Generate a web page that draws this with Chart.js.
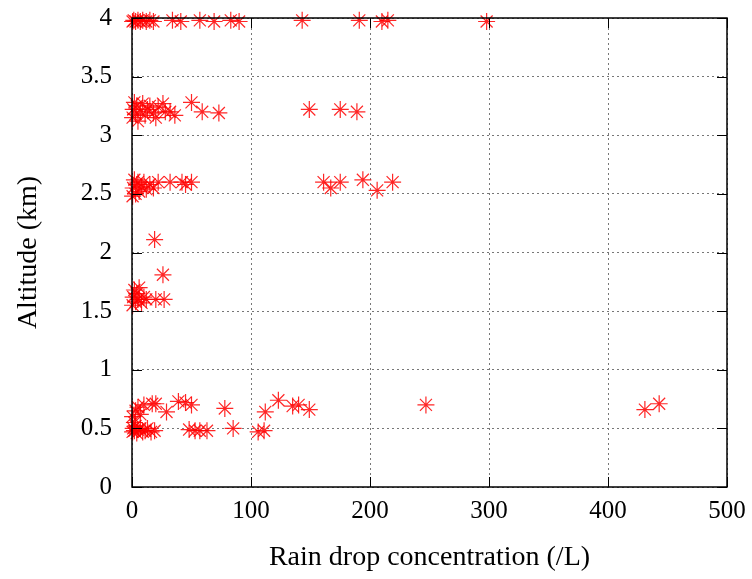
<!DOCTYPE html>
<html>
<head>
<meta charset="utf-8">
<script src="https://cdn.jsdelivr.net/npm/chart.js@4"></script>
<style>
  body { margin: 0; background: #fff; }
  #wrap { width: 752px; height: 579px; }
</style>
</head>
<body>
<div id="wrap"><canvas id="chart" width="752" height="579"></canvas></div>
<script>
// rain drop concentration (/L) and altitude (km)
var concentration = [
    // ~4 km
    0.5, 1.5, 3, 5, 7, 9, 12, 15, 18, 34, 41, 57, 69, 83, 90, 143, 191, 210, 215, 298,
    // ~3.2 km
    0.5, 1, 2, 3, 4, 5, 7, 9, 11, 13, 15, 18, 20, 22, 26, 28, 32, 36, 50, 59, 73, 149, 175, 189,
    // ~2.6 km
    0.5, 1, 2, 3, 4, 5, 6, 8, 10, 12, 15, 18, 22, 32, 42, 45, 50, 161, 167, 175, 194, 206, 219,
    // 2.1 and 1.8 km
    19, 26,
    // ~1.6 km
    0.5, 1, 2, 3, 4, 5, 6, 8, 10, 12, 20, 27,
    // ~0.7 km
    0.5, 2, 3, 5, 7, 10, 17, 20, 29, 39, 45, 50, 78, 112, 123, 135, 140, 149, 247, 431, 443,
    // ~0.5 km
    0.5, 1, 2, 3, 4, 5, 7, 9, 11, 13, 16, 19, 48, 53, 57, 63, 85, 106, 111
];
var altitude = [
    3.97, 3.98, 3.97, 3.98, 3.97, 3.98, 3.97, 3.98, 3.97, 3.98, 3.97, 3.98, 3.97, 3.98, 3.97, 3.98, 3.98, 3.97, 3.98, 3.97,
    3.15, 3.22, 3.28, 3.18, 3.25, 3.12, 3.2, 3.27, 3.17, 3.22, 3.25, 3.19, 3.15, 3.24, 3.27, 3.2, 3.2, 3.17, 3.28, 3.2, 3.19, 3.22, 3.22, 3.2,
    2.48, 2.55, 2.62, 2.5, 2.58, 2.6, 2.52, 2.56, 2.6, 2.54, 2.58, 2.55, 2.6, 2.6, 2.6, 2.58, 2.6, 2.6, 2.55, 2.6, 2.62, 2.53, 2.6,
    2.11, 1.81,
    1.55, 1.62, 1.68, 1.58, 1.65, 1.6, 1.7, 1.57, 1.62, 1.6, 1.6, 1.6,
    0.6, 0.55, 0.65, 0.68, 0.62, 0.7, 0.71, 0.71, 0.64, 0.73, 0.72, 0.7, 0.67, 0.64, 0.74, 0.69, 0.7, 0.66, 0.7, 0.66, 0.71,
    0.47, 0.5, 0.48, 0.52, 0.46, 0.49, 0.5, 0.47, 0.48, 0.5, 0.47, 0.48, 0.49, 0.48, 0.48, 0.48, 0.5, 0.47, 0.48
];

var xTitle = 'Rain drop concentration (/L)';
var yTitle = 'Altitude (km)';

var points = [];
for (var i = 0; i < concentration.length; i++) {
    points.push({ x: concentration[i], y: altitude[i] });
}

var font = 'Liberation Serif';

// gnuplot style frame with inward ticks
var framePlugin = {
    id: 'frame',
    afterDatasetsDraw: function (chart) {
        var ctx = chart.ctx;
        var a = chart.chartArea;
        ctx.save();
        ctx.strokeStyle = '#000';
        ctx.lineWidth = 1;
        ctx.beginPath();
        chart.scales.x.ticks.forEach(function (t) {
            var px = Math.round(chart.scales.x.getPixelForValue(t.value)) + 0.5;
            ctx.moveTo(px, a.bottom); ctx.lineTo(px, a.bottom - 10);
            ctx.moveTo(px, a.top); ctx.lineTo(px, a.top + 10);
        });
        chart.scales.y.ticks.forEach(function (t) {
            var py = Math.round(chart.scales.y.getPixelForValue(t.value)) + 0.5;
            ctx.moveTo(a.left, py); ctx.lineTo(a.left + 10, py);
            ctx.moveTo(a.right, py); ctx.lineTo(a.right - 10, py);
        });
        ctx.stroke();
        ctx.lineWidth = 1.5;
        ctx.strokeRect(a.left, a.top, a.right - a.left, a.bottom - a.top);
        ctx.restore();
    }
};

var plain = function (v) { return String(v); };

var config = {
    type: 'scatter',
    data: {
        datasets: [{
            data: points,
            pointStyle: 'star',
            pointRadius: 8.5,
            pointHoverRadius: 8.5,
            borderColor: 'rgba(255, 0, 0, 0.85)',
            backgroundColor: 'rgba(255, 0, 0, 0.85)',
            borderWidth: 1.2
        }]
    },
    options: {
        responsive: false,
        animation: false,
        clip: false,
        layout: { autoPadding: false, padding: { top: 18, right: 25, left: 8, bottom: 3 } },
        plugins: {
            legend: { display: false },
            tooltip: { enabled: false }
        },
        scales: {
            x: {
                type: 'linear',
                min: 0,
                max: 500,
                afterFit: function (s) { s.height = 89; s.paddingLeft = 0; s.paddingRight = 0; },
                ticks: { stepSize: 100, color: '#000', padding: 9, callback: plain, font: { family: font, size: 25 } },
                grid: { color: '#777', lineWidth: 1, drawTicks: false },
                border: { display: false, dash: [2, 3] },
                title: { display: true, text: xTitle, color: '#000', font: { family: font, size: 28 }, padding: { top: 7, bottom: 2 } }
            },
            y: {
                type: 'linear',
                min: 0,
                max: 4,
                afterFit: function (s) { s.width = 124; s.paddingTop = 0; s.paddingBottom = 0; },
                ticks: { stepSize: 0.5, color: '#000', padding: 20, callback: plain, font: { family: font, size: 25 } },
                grid: { color: '#777', lineWidth: 1, drawTicks: false },
                border: { display: false, dash: [2, 3] },
                title: { display: true, text: yTitle, color: '#000', font: { family: font, size: 28 }, padding: { top: 4, bottom: 4 } }
            }
        }
    },
    plugins: [framePlugin]
};

new Chart(document.getElementById('chart'), config);
</script>
</body>
</html>
